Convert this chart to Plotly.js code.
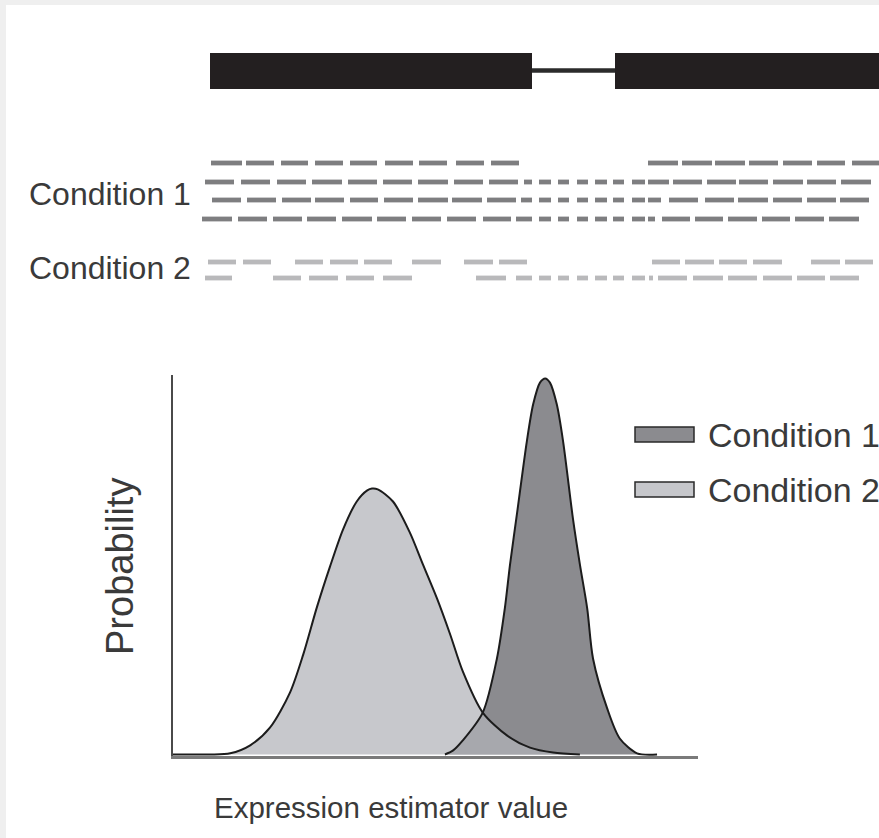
<!DOCTYPE html>
<html>
<head>
<meta charset="utf-8">
<script src="https://cdn.plot.ly/plotly-3.0.1.min.js"></script>
<style>html,body{margin:0;padding:0;background:#efefef;}#chart{width:879px;height:838px;}</style>
</head>
<body>
<div id="chart"></div>
<script>
// ---------- DATA ----------
// Gene model (genomic position units)
const exonStart = [0, 405];
const exonEnd   = [322, 700];

// Aligned reads: [start, end] per segment, genomic position units
const cond1ReadsA = [[1,32],[36,64],[71,98],[105,133],[140,167],[175,203],[209,237],[246,274],[281,309],[438,468],[472,502],[505,535],[539,568],[573,602],[607,635],[642,670]];
const cond1ReadsB = [[-5,24],[31,60],[67,96],[102,132],[138,167],[173,202],[208,238],[244,273],[279,308],[314,322],[329,341],[348,359],[367,378],[385,397],[403,414],[422,435],[438,459],[463,492],[497,526],[529,558],[563,593],[597,626],[631,661]];
const cond1ReadsC = [[2,31],[37,66],[72,101],[105,134],[140,168],[174,203],[208,238],[242,272],[277,306],[311,322],[329,341],[348,359],[367,378],[385,397],[403,414],[422,435],[438,451],[459,488],[495,524],[528,558],[563,592],[597,626],[630,659]];
const cond1ReadsD = [[-8,22],[28,57],[63,92],[97,126],[132,162],[167,196],[202,231],[237,266],[273,301],[306,322],[329,341],[348,359],[367,378],[385,397],[403,414],[422,435],[438,445],[452,480],[485,513],[518,547],[552,580],[585,614],[619,649]];
const cond2ReadsA = [[-2,26],[33,61],[85,113],[120,148],[154,182],[202,231],[254,283],[289,317],[442,470],[475,504],[509,537],[543,572],[601,630],[635,663]];
const cond2ReadsB = [[-5,22],[63,91],[99,128],[136,164],[173,202],[266,296],[306,322],[329,341],[348,359],[367,378],[385,397],[403,414],[422,435],[439,443],[448,477],[483,513],[518,547],[553,582],[587,615],[620,649]];

// Posterior distributions of the expression estimator
const cond1X = [5.18,5.33,5.52,5.90,6.17,6.32,6.42,6.55,6.74,6.86,6.99,7.09,7.18,7.31,7.43,7.62,7.75,7.89,8.00,8.27,8.51,8.84,9.22];
const cond1Y = [0,0.010,0.037,0.110,0.252,0.383,0.499,0.630,0.822,0.919,0.976,0.987,0.976,0.919,0.822,0.617,0.499,0.383,0.252,0.121,0.042,0.003,0];
const cond2X = [0,0.70,1.09,1.47,1.85,2.23,2.48,2.74,2.99,3.24,3.50,3.70,3.79,3.90,4.19,4.51,4.76,5.03,5.28,5.52,5.90,6.36,6.80,7.24,7.75];
const cond2Y = [0,0,0.003,0.024,0.071,0.163,0.262,0.386,0.493,0.591,0.664,0.693,0.698,0.696,0.664,0.583,0.499,0.409,0.315,0.218,0.110,0.050,0.018,0.005,0];

const labels = ["Condition 1", "Condition 2"];
const xTitle = "Expression estimator value";
const yTitle = "Probability";

// ---------- LAYOUT HELPERS ----------
const W = 879, H = 838;
const px = x => x / W;
const py = y => 1 - y / H;
const FONT = "Liberation Sans, Arial, Helvetica, sans-serif";
const TXT = "#3a3a3a";
const rowPos = {c1A:163, c1B:182, c1C:200, c1D:219, c2A:262, c2B:278};

function readsTrace(reads, yRow, color) {
  const xs = [], ys = [];
  reads.forEach(r => { xs.push(r[0], r[1], null); ys.push(yRow, yRow, null); });
  return {type:'scatter', mode:'lines', x:xs, y:ys, xaxis:'x2', yaxis:'y2',
          line:{color:color, width:4.8}, hoverinfo:'skip', showlegend:false};
}

const C1 = '#7e7e80', C2 = '#b9b9bb';
const traces = [
  {type:'scatter', mode:'lines', x:cond1X, y:cond1Y, fill:'tozeroy', fillcolor:'#8b8b8f',
   line:{width:0, shape:'spline', smoothing:0.8}, showlegend:false, hoverinfo:'skip'},
  {type:'scatter', mode:'lines', x:cond2X, y:cond2Y, fill:'tozeroy', fillcolor:'rgba(178,179,184,0.72)',
   line:{width:0, shape:'spline', smoothing:0.8}, showlegend:false, hoverinfo:'skip'},
  {type:'scatter', mode:'lines', x:cond1X, y:cond1Y, name:labels[0],
   line:{color:'#1c1c1c', width:2, shape:'spline', smoothing:0.8}, showlegend:false},
  {type:'scatter', mode:'lines', x:cond2X, y:cond2Y, name:labels[1],
   line:{color:'#1c1c1c', width:2, shape:'spline', smoothing:0.8}, showlegend:false},
  readsTrace(cond1ReadsA, rowPos.c1A, C1),
  readsTrace(cond1ReadsB, rowPos.c1B, C1),
  readsTrace(cond1ReadsC, rowPos.c1C, C1),
  readsTrace(cond1ReadsD, rowPos.c1D, C1),
  readsTrace(cond2ReadsA, rowPos.c2A, C2),
  readsTrace(cond2ReadsB, rowPos.c2B, C2)
];

const shapes = [
  {type:'rect', xref:'paper', yref:'paper', x0:px(6), x1:1, y0:0, y1:py(5),
   fillcolor:'#ffffff', line:{width:0}, layer:'below'}
];
exonStart.forEach((s, i) => {
  shapes.push({type:'rect', xref:'x2', yref:'y2', x0:s, x1:exonEnd[i], y0:53, y1:89,
               fillcolor:'#231f20', line:{width:0}});
});
shapes.push({type:'line', xref:'x2', yref:'y2', x0:exonEnd[0], x1:exonStart[1], y0:70.5, y1:70.5,
             line:{color:'#2b2b2b', width:4.5}});
// legend keys
const legendFill = ['#8b8b8f', '#c6c7cb'];
const legendY = [434.5, 489.5];
legendY.forEach((yc, i) => {
  shapes.push({type:'rect', xref:'paper', yref:'paper', x0:px(635), x1:px(694), y0:py(yc+7.5), y1:py(yc-7.5),
               fillcolor:legendFill[i], line:{color:'#2a2a2a', width:1.5}});
});

const annotations = [
  {text:labels[0], x:px(27), y:py(194), xanchor:'left', yanchor:'middle', size:32},
  {text:labels[1], x:px(27), y:py(268), xanchor:'left', yanchor:'middle', size:32},
  {text:labels[0], x:px(706), y:py(legendY[0]), xanchor:'left', yanchor:'middle', size:34},
  {text:labels[1], x:px(706), y:py(legendY[1]), xanchor:'left', yanchor:'middle', size:34},
  {text:yTitle, x:px(120), y:py(567), xanchor:'center', yanchor:'middle', textangle:-90, size:38},
  {text:xTitle, x:px(212), y:py(807), xanchor:'left', yanchor:'middle', size:29.5}
].map(a => ({
  text:a.text, x:a.x, y:a.y, xref:'paper', yref:'paper', xanchor:a.xanchor, yanchor:a.yanchor,
  textangle:a.textangle || 0, showarrow:false,
  font:{family:FONT, size:a.size || 30, color:TXT}
}));

const layout = {
  width:W, height:H, margin:{l:0, r:0, t:0, b:0},
  paper_bgcolor:'#efefef', plot_bgcolor:'rgba(0,0,0,0)',
  showlegend:false,
  xaxis:{domain:[px(173), px(698)], range:[0,10], showline:true, linecolor:'#7a7a7a', linewidth:3,
         showgrid:false, zeroline:false, showticklabels:false, ticks:'', fixedrange:true},
  yaxis:{domain:[py(756), py(375)], range:[-0.004,0.996], showline:true, linecolor:'#4a4a4a', linewidth:2,
         showgrid:false, zeroline:false, showticklabels:false, ticks:'', fixedrange:true},
  xaxis2:{domain:[0,1], range:[-210,669], anchor:'y2', visible:false, fixedrange:true},
  yaxis2:{domain:[py(300),1], range:[300,0], anchor:'x2', visible:false, fixedrange:true},
  shapes:shapes,
  annotations:annotations
};

Plotly.newPlot('chart', traces, layout, {staticPlot:true, displayModeBar:false});
</script>
</body>
</html>
